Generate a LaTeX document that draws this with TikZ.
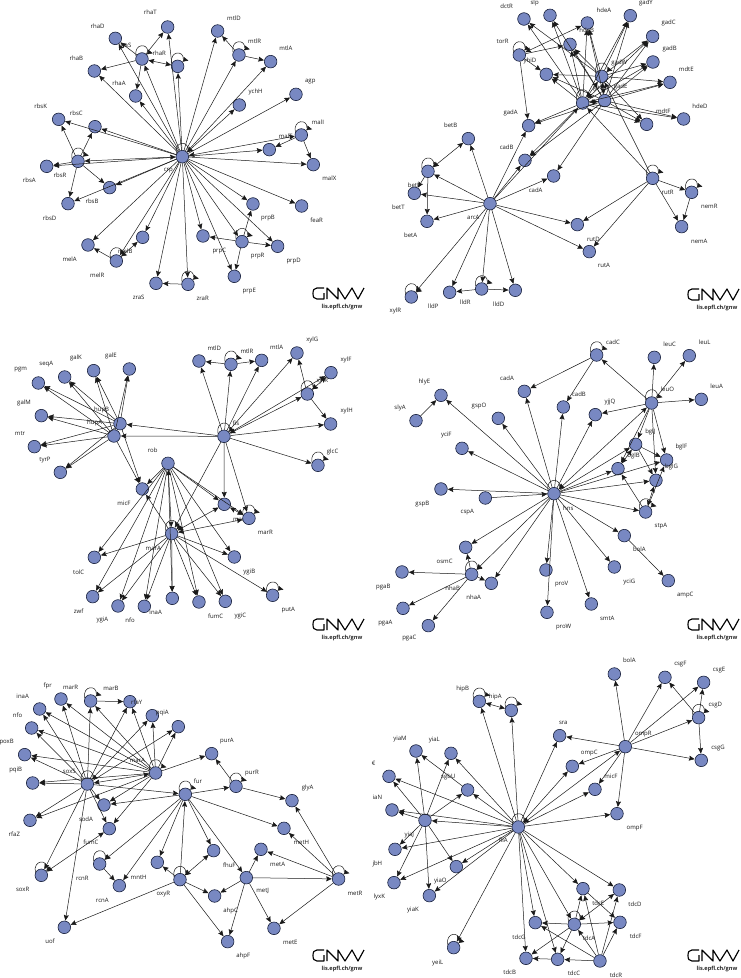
\documentclass[tikz,border=0pt]{standalone}
\usepackage{fontspec}
\setmainfont{Open Sans}
\usetikzlibrary{arrows.meta,calc}
\definecolor{genefill}{RGB}{120,136,194}
\definecolor{geneline}{RGB}{24,32,60}
\tikzset{
  gene/.style={circle,draw=geneline,fill=genefill,line width=.6pt,minimum size=12.6pt,inner sep=0pt},
  lab/.style={font=\fontsize{6}{7}\selectfont,text=black!90,inner sep=0pt},
  edge/.style={line width=.5pt,draw=black!90,-{Stealth[length=5.6pt,width=5pt,inset=.8pt]},shorten >=.2pt},
  mutual/.style={line width=.5pt,draw=black!90,{Stealth[length=5.6pt,width=5pt,inset=.8pt]}-{Stealth[length=5.6pt,width=5pt,inset=.8pt]}},
  brand/.style={line width=1.15pt,line join=round,line cap=butt},
  site/.style={font=\bfseries\fontsize{5.6}{7}\selectfont,text=black!85,inner sep=0pt}
}
% one gene: name / x / y / printed name / label x / label y
\newcommand\genes[2]{\foreach \i/\x/\y/\t/\lx/\ly in {#2}{
  \node[gene] (#1\i) at (\x,\y) {};
  \node[lab] (#1\i l) at (\lx,\ly) {\t};}}
\newcommand\regulates[3]{\foreach \g in {#3}{\draw[edge] (#1#2) -- (#1\g);}}
\newcommand\both[3]{\foreach \g in {#3}{\draw[mutual] (#1#2) -- (#1\g);}}
\newcommand\autoloop[2]{\foreach \n in {#2}{
  \draw[edge] ($(#1\n)+(-18,-9)$) .. controls ($(#1\n)+(-25,-47)$) and ($(#1\n)+(19,-49)$) .. ($(#1\n)+(17,-21)$) -- ($(#1\n)+(33,-17)$);}}
% wordmark and address in the corner of each network
\newcommand\wordmark[3]{
  \begin{scope}[shift={(#1,#2)},y=-1pt]
    \draw[brand] (11,0) -- (4,0) .. controls (1,0) and (0,2) .. (0,5.5) .. controls (0,9) and (1,11) .. (4,11) -- (11,11) -- (11,5);
    \draw[brand] (14,11) -- (14,0) -- (25,11) -- (25,0) -- (32,11) -- (39,0) -- (45,11) -- (51,0);
    \node[site] (#3) at (29,19) {lis.epfl.ch/gnw};
  \end{scope}}
\begin{document}
\begin{tikzpicture}[x=1pt,y=1pt]
\useasboundingbox (0,0) rectangle (740,-978);
\fill[white] (0,0) rectangle (740,-978);

% crp regulon
\begin{scope}[shift={(0,0)},x=.3333pt,y=-.3333pt]
\genes{a}{crp/547/470/crp/505/512,rhaT/503/81/rhaT/451/38,rhaD/346/115/rhaD/293/78,rhaR/426/177/rhaR/478/159,rhaS/533/199/rhaS/375/137,rhaB/283/213/rhaB/229/174,rhaA/407/288/rhaA/357/249,mtlD/653/93/mtlD/702/55,mtlR/717/165/mtlR/764/125,mtlA/812/185/mtlA/858/146,ychH/718/315/ychH/767/277,agp/888/283/agp/931/246,malI/904/405/malI/954/366,malT/808/449/malT/857/409,malX/940/494/malX/988/535,feaR/905/618/feaR/950/660,prpB/759/612/prpB/804/655,prpD/833/739/prpD/881/783,prpR/726/725/prpR/773/769,prpC/609/708/prpC/658/752,prpE/703/829/prpE/748/872,zraR/564/853/zraR/608/895,zraS/468/850/zraS/416/893,melB/428/712/melB/376/755,melR/349/783/melR/292/825,melA/264/735/melA/209/779,rbsK/176/358/rbsK/122/318,rbsC/285/380/rbsC/229/341,rbsR/234/484/rbsR/180/527,rbsA/140/499/rbsA/88/541,rbsB/329/563/rbsB/276/605,rbsD/204/611/rbsD/149/654}
\regulates{a}{crp}{rhaT,rhaD,rhaR,rhaS,rhaB,rhaA,mtlD,mtlR,mtlA,agp,malT,malX,feaR,prpB,prpD,prpR,prpC,prpE,zraR,zraS,melB,melR,melA,rbsK,rbsC,rbsA,rbsB,rbsD}
\both{a}{crp}{ychH,malI,rbsR}
\regulates{a}{malI}{malT,malX}
\regulates{a}{rbsR}{rbsK,rbsC,rbsA,rbsB,rbsD}
\regulates{a}{rhaR}{rhaD,rhaT,rhaB,rhaA}
\both{a}{rhaS}{rhaR}
\regulates{a}{mtlR}{mtlD,mtlA}
\regulates{a}{prpR}{prpB,prpC,prpD,prpE}
\regulates{a}{zraR}{zraS}
\regulates{a}{melR}{melA,melB}
\autoloop{a}{crp,rhaR,rhaS,mtlR,malI,rbsR,prpR,zraR,melR}
\end{scope}
\wordmark{313}{-288}{siteA}

% arcA and gad regulons
\begin{scope}[shift={(370,0)},x=.3333pt,y=-.3333pt]
\genes{b}{arcA/360/611/arcA/310/653,torR/448/165/torR/398/125,dctR/462/57/dctR/410/18,slp/540/46/slp/494/9,hdeA/652/69/hdeA/702/31,hdeB/600/133/hdeB/650/92,gadY/781/47/gadY/828/10,gadC/848/109/gadC/896/70,gadB/849/186/gadB/899/146,mdtE/900/247/mdtE/949/207,hdeD/941/357/hdeD/990/319,mdtF/830/373/mdtF/880/333,gadW/695/229/gadW/748/190,gadE/704/302/gadE/752/260,gadX/638/309/gadX/690/265,yhiD/529/223/yhiD/480/183,gadA/476/377/gadA/422/338,cadB/465/481/cadB/410/443,cadA/551/528/cadA/497/571,betB/295/416/betB/242/376,betI/174/514/betI/130/556,betT/133/580/betT/85/622,betA/171/664/betA/122/706,rutR/848/535/rutR/893/576,nemR/965/577/nemR/1018/620,nemA/935/680/nemA/988/723,rutD/622/674/rutD/670/717,rutA/658/755/rutA/702/797,lldP/239/877/lldP/190/918,lldR/335/867/lldR/286/907,lldD/436/871/lldD/386/913,xylR/124/891/xylR/76/933}
\regulates{b}{arcA}{betB,betI,betT,betA,xylR,lldP,lldR,lldD,rutD,rutA,cadA,cadB,gadA,gadX}
\regulates{b}{betI}{betT,betA}
\both{b}{betB}{betI}
\regulates{b}{lldR}{lldP,lldD}
\regulates{b}{rutR}{nemR,nemA,rutD,rutA,gadW,gadX}
\regulates{b}{nemR}{nemA}
\regulates{b}{torR}{gadA,yhiD,hdeB}
\both{b}{hdeA}{torR}
\regulates{b}{gadX}{dctR,slp,hdeA,hdeB,yhiD,gadY,gadC,gadB,mdtE,hdeD,mdtF,gadA,cadB}
\regulates{b}{gadE}{slp,hdeA,hdeB,yhiD,gadY,gadC,gadB,mdtE,hdeD,mdtF,gadA,cadB,cadA}
\regulates{b}{gadW}{dctR,hdeA,hdeB,yhiD,gadY,gadC,gadB,mdtE,mdtF}
\both{b}{gadX}{gadW,gadE}
\both{b}{gadW}{gadE}
\autoloop{b}{betI,lldR,xylR,torR,rutR,nemR,gadW,gadX}
\end{scope}
\wordmark{688}{-289}{siteB}

% fis, rob and marA regulons
\begin{scope}[shift={(0,-320)},x=.3333pt,y=-.3333pt]
\genes{c}{fis/672/349/fis/708/310,mtlD/597/123/mtlD/643/86,mtlR/693/133/mtlR/741/94,mtlA/785/121/mtlA/830/83,xylG/891/99/xylG/937/61,xylF/993/158/xylF/1038/120,xylR/922/222/xylR/967/183,xylH/992/312/xylH/1040/273,glcC/954/436/glcC/998/397,hupB/360/311/hupB/305/271,hupA/342/348/hupA/284/308,seqA/194/171/seqA/139/132,galK/281/152/galK/228/113,galE/388/147/galE/333/109,pgm/115/189/pgm/62/150,galM/124/287/galM/72/249,mtr/103/380/mtr/60/341,tyrP/181/457/tyrP/135/419,rob/504/430/rob/458/391,micF/427/507/micF/372/549,marA/515/641/marA/460/685,marB/673/553/marB/722/598,marR/747/595/marR/796/637,tolC/283/712/tolC/236/756,zwf/278/830/zwf/236/874,ygiA/354/858/ygiA/307/901,nfo/433/859/nfo/390/901,inaA/517/835/inaA/467/878,fumC/597/846/fumC/647/889,ygiC/676/844/ygiC/721/887,ygiB/703/711/ygiB/748/755,putA/818/826/putA/865/869}
\regulates{c}{fis}{mtlD,mtlR,mtlA,xylG,xylF,xylH,glcC,hupB,hupA,marA,marB,marR}
\both{c}{fis}{xylR}
\regulates{c}{xylR}{xylG,xylH}
\both{c}{xylF}{xylR}
\regulates{c}{mtlR}{mtlD,mtlA}
\regulates{c}{hupB}{seqA,galK,galE,pgm,galM,mtr,tyrP,micF}
\regulates{c}{hupA}{seqA,galK,galE,pgm,galM,mtr,tyrP,micF}
\regulates{c}{rob}{micF,marB,marR,tolC,zwf,ygiA,nfo,inaA,fumC,ygiC,ygiB}
\both{c}{rob}{marA}
\regulates{c}{marA}{micF,tolC,zwf,ygiA,nfo,inaA,fumC,ygiC,ygiB,putA}
\both{c}{marA}{marB,marR}
\both{c}{marB}{marR}
\autoloop{c}{fis,marA,marR,xylR,mtlR,glcC,putA}
\end{scope}
\wordmark{313}{-619}{siteC}

% hns regulon
\begin{scope}[shift={(370,-320)},x=.3333pt,y=-.3333pt]
\genes{d}{hns/552/521/hns/595/565,cadC/680/105/cadC/729/67,leuC/853/112/leuC/899/73,leuL/958/107/leuL/1004/68,leuO/845/249/leuO/892/208,leuA/994/238/leuA/1040/198,cadA/463/214/cadA/411/176,cadB/580/261/cadB/627/222,hlyE/213/226/hlyE/163/186,slyA/138/302/slyA/90/263,gspO/385/295/gspO/327/258,yjjQ/676/284/yjjQ/720/246,yciF/276/385/yciF/229/346,gspB/213/507/gspB/157/553,cspA/346/534/cspA/292/577,bglJ/797/373/bglJ/841/335,bglF/890/420/bglF/934/381,bglB/744/446/bglB/791/407,bglG/858/481/bglG/905/442,stpA/827/576/stpA/873/618,bolA/763/647/bolA/808/689,ampC/895/782/ampC/946/825,yciG/733/741/yciG/778/785,smtA/664/852/smtA/712/895,proV/528/750/proV/575/793,proW/531/877/proW/581/920,nhaA/364/790/nhaA/311/833,nhaB/305/763/nhaB/248/805,osmC/287/682/osmC/224/725,pgaB/96/756/pgaB/40/800,pgaA/99/865/pgaA/46/909,pgaC/175/917/pgaC/118/955}
\regulates{d}{hns}{hlyE,cadA,gspO,cadB,yjjQ,yciF,gspB,bglJ,bglB,bglF,bglG,stpA,bolA,yciG,smtA,proV,proW,osmC,nhaB,nhaA}
\both{d}{hns}{leuO}
\regulates{d}{cspA}{hns}
\regulates{d}{leuO}{cadC,leuC,leuL,leuA,yjjQ,bglJ,bglF,bglG,bglB}
\regulates{d}{cadC}{cadA,cadB}
\regulates{d}{slyA}{hlyE}
\regulates{d}{bglJ}{bglF,bglG}
\both{d}{bglB}{bglJ}
\regulates{d}{stpA}{bglB,bglF}
\both{d}{bglG}{stpA}
\regulates{d}{bolA}{ampC}
\regulates{d}{nhaB}{osmC,pgaB,pgaA,pgaC,nhaA}
\autoloop{d}{hns,cadC,leuO,nhaB,stpA}
\end{scope}
\wordmark{688}{-619}{siteD}

% soxS, marA and fur regulons
\begin{scope}[shift={(0,-650)},x=.3333pt,y=-.3333pt]
\genes{e}{soxS/262/402/soxS/208/365,marA/467/369/marA/412/331,inaA/119/177/inaA/68/138,fpr/183/147/fpr/143/108,marR/272/153/marR/212/113,marB/390/155/marB/333/115,rfaY/457/197/rfaY/410/157,pqiA/535/230/pqiA/487/190,nfo/95/234/nfo/53/195,poxB/74/314/poxB/20/275,pqiB/98/399/pqiB/47/360,rfaZ/90/511/rfaZ/43/553,soxR/124/676/soxR/68/718,uof/193/832/uof/150/875,rcnR/299/642/rcnR/247/685,rcnA/358/707/rcnA/307/750,mntH/472/637/mntH/416/681,fumC/328/536/fumC/273/578,sodA/312/465/sodA/258/507,fur/556/433/fur/594/394,purA/635/311/purA/681/272,purR/708/409/purR/756/368,glyA/876/452/glyA/923/414,metH/852/535/metH/904/578,metA/783/598/metA/833/642,metJ/739/683/metJ/788/724,fhuF/641/602/fhuF/688/645,oxyR/540/689/oxyR/490/732,ahpC/644/738/ahpC/692/782,ahpF/683/875/ahpF/730/918,metE/822/835/metE/871/878,metR/1016/687/metR/1065/731}
\regulates{e}{soxS}{inaA,fpr,marR,marB,rfaY,pqiA,nfo,poxB,pqiB,rfaZ,soxR,uof,sodA,fumC,fur}
\both{e}{soxS}{marA}
\regulates{e}{marA}{inaA,fpr,marR,marB,rfaY,pqiA,nfo,poxB,pqiB,rfaZ,sodA,fumC,purA}
\regulates{e}{marR}{marB}
\both{e}{soxR}{fumC}
\regulates{e}{fur}{sodA,purR,metH,fhuF,mntH,rcnR,rcnA,metJ}
\regulates{e}{purR}{purA,glyA}
\regulates{e}{oxyR}{fur,mntH,ahpC,ahpF,uof}
\both{e}{fhuF}{oxyR}
\regulates{e}{rcnR}{rcnA}
\regulates{e}{metJ}{metA,ahpC,ahpF,metE,metR}
\regulates{e}{metR}{glyA,metH,metA,metE}
\autoloop{e}{soxS,marA,marR,soxR,fur,purR,rcnR,oxyR,metR}
\end{scope}
\wordmark{313}{-950}{siteE}

% fliA, ompR and tdc regulons
\begin{scope}[shift={(370,-650)},x=.3333pt,y=-.3333pt]
\genes{f}{fliA/445/531/fliA/400/572,hipB/328/154/hipB/278/116,hipA/424/181/hipA/376/142,yiaM/138/303/yiaM/90/266,yiaL/243/310/yiaL/193/270,yiaE/57/379/€/11/340,yiaN/66/480/iaN/22/443,yiaJ/165/511/yiaJ/118/554,sgbU/293/420/sgbU/235/382,ybjH/75/598/jbH/22/643,lyxK/72/698/lyxK/28/740,yiaK/178/737/yiaK/129/781,yiaO/259/650/yiaO/211/692,yeiL/251/893/yeiL/203/938,bolA/733/72/bolA/778/32,csgF/885/82/csgF/931/43,csgE/1001/97/csgE/1047/59,csgD/986/203/csgD/1036/165,csgG/994/331/csgG/1044/293,ompR/766/290/ompR/820/252,sra/569/257/sra/580/219,ompC/607/349/ompC/658/310,micF/675/418/micF/723/378,ompF/741/491/ompF/794/533,tdcD/748/720/tdcD/795/763,tdcF/750/817/tdcF/797/860,tdcE/639/716/tdcE/685/760,tdcG/496/818/tdcG/447/862,tdcA/613/823/tdcA/657/865,tdcB/468/925/tdcB/419/968,tdcC/563/928/tdcC/612/969,tdcR/690/933/tdcR/738/976}
\regulates{f}{fliA}{hipB,hipA,sra,ompC,micF,ompF,yiaL,sgbU,yiaE,yiaJ,yiaN,ybjH,lyxK,yiaO,yiaK,yeiL,tdcG,tdcB,tdcC,tdcA,tdcE,tdcD}
\both{f}{ompR}{fliA}
\regulates{f}{ompR}{bolA,csgF,csgE,csgD,csgG,sra,ompC,micF,ompF}
\regulates{f}{csgD}{csgF,csgE,csgG}
\both{f}{hipB}{hipA}
\regulates{f}{sgbU}{yiaM}
\regulates{f}{yiaJ}{yiaE,yiaN,yiaM,yiaL,sgbU,ybjH,lyxK,yiaK,yiaO}
\regulates{f}{tdcA}{tdcE,tdcF,tdcG,tdcB,tdcC}
\both{f}{tdcD}{tdcA}
\regulates{f}{tdcE}{tdcF}
\regulates{f}{tdcR}{tdcA,tdcE,tdcD,tdcF,tdcG,tdcC}
\regulates{f}{tdcC}{tdcB}
\autoloop{f}{fliA,hipB,hipA,csgD,tdcA,yeiL}
\end{scope}
\wordmark{688}{-950}{siteF}
\end{tikzpicture}
\end{document}
